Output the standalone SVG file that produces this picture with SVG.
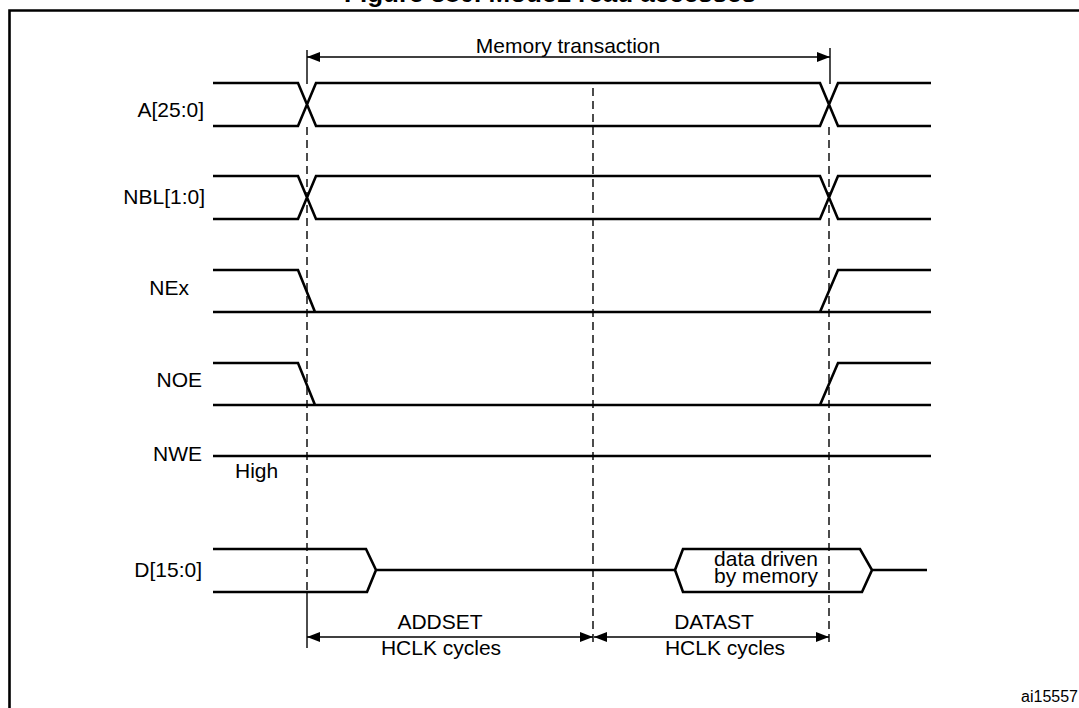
<svg xmlns="http://www.w3.org/2000/svg" width="1079" height="708" viewBox="0 0 1079 708">
<style>
.sig{fill:none;stroke:#000;stroke-width:2.6;stroke-linejoin:miter}
.t{font-family:"Liberation Sans",Arial,sans-serif;font-size:21px;fill:#000}
.dash{fill:none;stroke:#000;stroke-width:1.4;stroke-dasharray:8 5}
.dim{fill:none;stroke:#000;stroke-width:1.4}
</style>
<defs>
<marker id="arr" viewBox="0 0 13 10" refX="13" refY="5" markerWidth="13" markerHeight="10" markerUnits="userSpaceOnUse" orient="auto-start-reverse">
<path d="M0,0 L13,5 L0,10 z" fill="#000"/>
</marker>
</defs>
<rect width="1079" height="708" fill="#fff"/>
<text x="550" y="1.5" text-anchor="middle" font-family="Liberation Sans,Arial,sans-serif" font-size="26" font-weight="bold" fill="#000">Figure 380. Mode1 read accesses</text>
<path d="M9.5,720 V10.5 H1090" fill="none" stroke="#000" stroke-width="2.6"/>

<g id="connectors">
<line class="dim" x1="307" y1="50" x2="307" y2="84"/>
<line class="dim" x1="830" y1="48" x2="830" y2="84"/>
<line class="dim" x1="307" y1="57" x2="830" y2="57" marker-start="url(#arr)" marker-end="url(#arr)"/>
<line class="dash" x1="307" y1="127" x2="307" y2="593"/>
<line class="dim" x1="307" y1="593" x2="307" y2="648"/>
<line class="dash" x1="593" y1="88" x2="593" y2="647"/>
<line class="dash" x1="829" y1="127" x2="829" y2="642"/>
<line class="dim" x1="307" y1="637" x2="593" y2="637" marker-start="url(#arr)" marker-end="url(#arr)"/>
<line class="dim" x1="594" y1="637" x2="829" y2="637" marker-start="url(#arr)" marker-end="url(#arr)"/>
</g>

<g id="memory-transaction">
<text class="t" x="568" y="53" text-anchor="middle">Memory transaction</text>
</g>

<g id="sig-A">
<text class="t" x="204" y="117" text-anchor="end">A[25:0]</text>
<path class="sig" d="M213,83 H298 L316,126 H820 L838,83 H931 M213,126 H298 L316,83 H820 L838,126 H931"/>
</g>

<g id="sig-NBL">
<text class="t" x="205" y="204" text-anchor="end">NBL[1:0]</text>
<path class="sig" d="M213,176 H298 L316,219 H820 L838,176 H931 M213,219 H298 L316,176 H820 L838,219 H931"/>
</g>

<g id="sig-NEx">
<text class="t" x="189" y="295" text-anchor="end">NEx</text>
<path class="sig" d="M213,270 H298 L315,312 M213,312 H931 M820,312 L838,270 H931"/>
</g>

<g id="sig-NOE">
<text class="t" x="202" y="387" text-anchor="end">NOE</text>
<path class="sig" d="M213,363 H298 L315,405 M213,405 H931 M820,405 L838,363 H931"/>
</g>

<g id="sig-NWE">
<text class="t" x="202" y="461" text-anchor="end">NWE</text>
<path class="sig" d="M213,456 H931"/>
<text class="t" x="235" y="478">High</text>
</g>

<g id="sig-D">
<text class="t" x="202" y="577" text-anchor="end">D[15:0]</text>
<path class="sig" d="M213,549 H366 L376,570 L367,592 H213 M376,570 H675 M872,570 H927"/>
<path class="sig" d="M675,570 L683,549 H860 L872,570 L862,592 H683 Z"/>
<text class="t" x="766" y="566" text-anchor="middle" font-size="20">data driven</text>
<text class="t" x="766" y="583" text-anchor="middle" font-size="20">by memory</text>
</g>

<g id="addset">
<text class="t" x="440" y="629" text-anchor="middle">ADDSET</text>
<text class="t" x="441" y="655" text-anchor="middle">HCLK cycles</text>
</g>

<g id="datast">
<text class="t" x="714" y="629" text-anchor="middle">DATAST</text>
<text class="t" x="725" y="655" text-anchor="middle">HCLK cycles</text>
</g>

<text x="1078" y="702" text-anchor="end" font-family="Liberation Sans,Arial,sans-serif" font-size="16" fill="#000">ai15557</text>
</svg>
